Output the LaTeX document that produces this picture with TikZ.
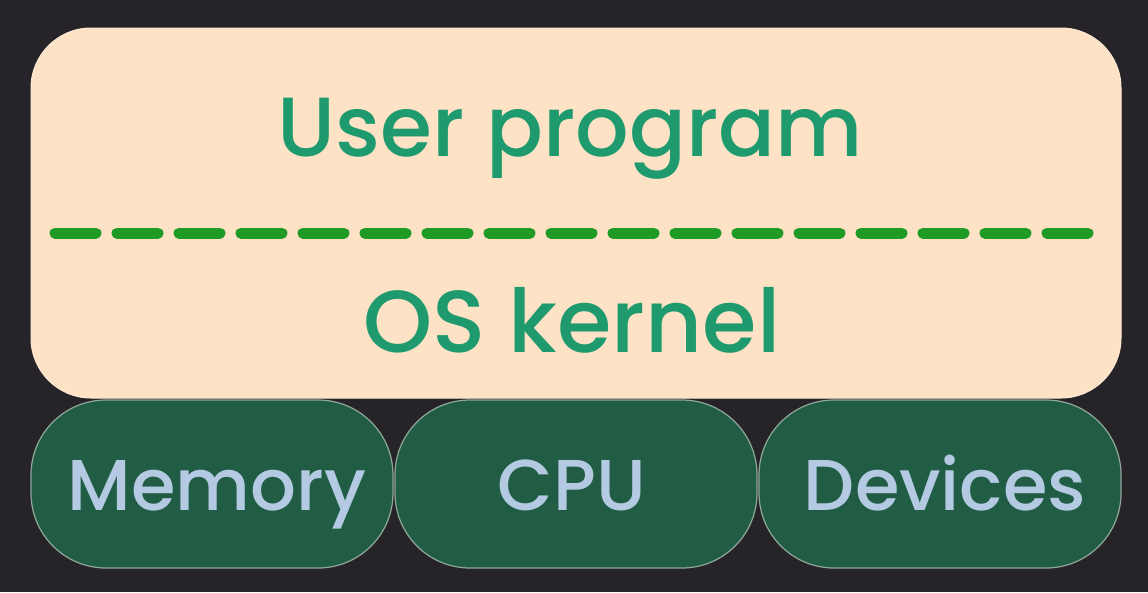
\documentclass[tikz,border=0pt]{standalone}
\usepackage{fontspec}
\setmainfont{Poppins}[BoldFont={Poppins Medium}]
\definecolor{bgc}{HTML}{262428}
\definecolor{peach}{HTML}{FDE2C6}
\definecolor{txtgreen}{HTML}{1F9A6E}
\definecolor{dashgreen}{HTML}{1F9A25}
\definecolor{pillfill}{HTML}{215C45}
\definecolor{pillborder}{HTML}{8FA89A}
\definecolor{pilltext}{HTML}{B4CAE2}
\tikzset{
  panel/.style={draw=peach!80!white, line width=1pt, fill=peach, rounded corners=60pt, inner sep=0pt},
  pill/.style={draw=pillborder, line width=1.2pt, fill=pillfill, rounded corners=75pt, inner sep=0pt, minimum height=168pt},
  bigtext/.style={text=txtgreen, anchor=base, font=\fontsize{84}{94}\selectfont\bfseries},
  kerneltext/.style={text=txtgreen, anchor=base, font=\fontsize{88}{98}\selectfont\bfseries},
  pilltxt/.style={text=pilltext, anchor=base, font=\fontsize{72}{82}\selectfont\bfseries},
  divider/.style={draw=dashgreen, line width=11pt, line cap=round, dash pattern=on 41pt off 21pt}
}
\begin{document}
\begin{tikzpicture}[x=1pt,y=-1pt]
\fill[bgc] (0,0) rectangle (1148,592);
\useasboundingbox (0,0) rectangle (1148,592);
\node[panel, minimum width=1090pt, minimum height=370pt] (panel) at (576,213) {};
\node[bigtext] (user) at (570,156) {User program};
\node[kerneltext] (kernel) at (572,352) {OS kernel};
\coordinate (dL) at (55,233);
\coordinate (dR) at (1105,233);
\draw[divider] (dL) -- (dR);
\node[pill, minimum width=362pt] (mem) at (212,484) {};
\node[pill, minimum width=362pt] (cpu) at (576,484) {};
\node[pill, minimum width=362pt] (dev) at (940,484) {};
\node[pilltxt] (memt) at (217,510) {Memory};
\node[pilltxt] (cput) at (572,510) {CPU};
\node[pilltxt] (devt) at (945,510) {Devices};
\end{tikzpicture}
\end{document}
